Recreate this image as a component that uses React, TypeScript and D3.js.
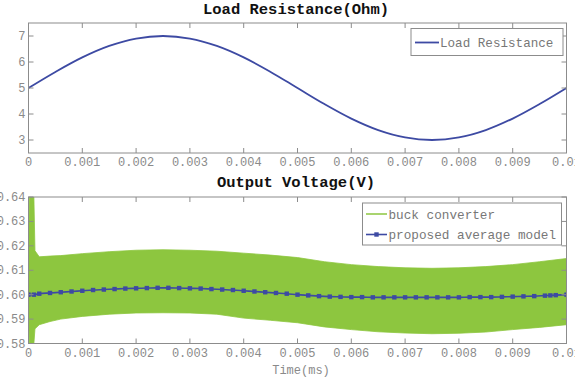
import React from "react";
import * as d3 from "d3";

const W = 575;
const H = 382;

// Load resistance (Ohm)
const loadTime = [0, 0.0005, 0.001, 0.0015, 0.002, 0.0025, 0.003, 0.0035, 0.004, 0.0045, 0.005, 0.0055, 0.006, 0.0065, 0.007, 0.0075, 0.008, 0.0085, 0.009, 0.0095, 0.01];
const loadValues = [5.0, 5.618, 6.176, 6.618, 6.902, 7.0, 6.902, 6.618, 6.176, 5.618, 5.0, 4.382, 3.824, 3.382, 3.098, 3.0, 3.098, 3.382, 3.824, 4.382, 5.0];

// Buck converter ripple envelope
const buckTime = [0, 0.00002, 0.00008, 0.0001, 0.00012, 0.0002, 0.0004, 0.0006, 0.001, 0.0015, 0.002, 0.0025, 0.003, 0.0035, 0.004, 0.0045, 0.005, 0.0055, 0.006, 0.0065, 0.007, 0.0075, 0.008, 0.0085, 0.009, 0.0095, 0.01];
const buckUpper = [0.6, 0.66, 0.66, 0.64, 0.618, 0.6155, 0.6158, 0.616, 0.6168, 0.6176, 0.6182, 0.6184, 0.6182, 0.6178, 0.617, 0.6162, 0.6152, 0.6135, 0.6123, 0.6115, 0.611, 0.6108, 0.611, 0.6115, 0.6123, 0.6135, 0.6148];
const buckLower = [0.6, 0.57, 0.57, 0.58, 0.586, 0.5877, 0.589, 0.59, 0.5911, 0.592, 0.5925, 0.5926, 0.5925, 0.592, 0.5904, 0.5895, 0.5885, 0.5868, 0.5857, 0.5848, 0.5843, 0.584, 0.5842, 0.5847, 0.5857, 0.5866, 0.5877];

// Proposed average model
const avgTime = [0, 0.0001, 0.0002, 0.0004, 0.0006, 0.0008, 0.001, 0.0012, 0.0014, 0.0016, 0.0018, 0.002, 0.0022, 0.0024, 0.0026, 0.0028, 0.003, 0.0032, 0.0034, 0.0036, 0.0038, 0.004, 0.0042, 0.0044, 0.0046, 0.0048, 0.005, 0.0052, 0.0054, 0.0056, 0.0058, 0.006, 0.0062, 0.0064, 0.0066, 0.0068, 0.007, 0.0072, 0.0074, 0.0076, 0.0078, 0.008, 0.0082, 0.0084, 0.0086, 0.0088, 0.009, 0.0092, 0.0094, 0.0096, 0.0097, 0.0098, 0.01];
const avgValues = [0.6, 0.6, 0.6004, 0.6007, 0.601, 0.6013, 0.6016, 0.6019, 0.6021, 0.6023, 0.6025, 0.6026, 0.6027, 0.6028, 0.6028, 0.6027, 0.6026, 0.6025, 0.6023, 0.6021, 0.6019, 0.6016, 0.6013, 0.601, 0.6007, 0.6004, 0.6, 0.5997, 0.5994, 0.5992, 0.5991, 0.599, 0.599, 0.5989, 0.5989, 0.5989, 0.5989, 0.5989, 0.5989, 0.5989, 0.5989, 0.5989, 0.599, 0.599, 0.599, 0.5991, 0.5992, 0.5993, 0.5994, 0.5996, 0.5997, 0.5998, 0.6];

const xTicks = [0, 0.001, 0.002, 0.003, 0.004, 0.005, 0.006, 0.007, 0.008, 0.009, 0.01];
const xTickLabels = ["0", "0.001", "0.002", "0.003", "0.004", "0.005", "0.006", "0.007", "0.008", "0.009", "0.01"];
const topYTicks = [3, 4, 5, 6, 7];
const botYTicks = [0.58, 0.59, 0.6, 0.61, 0.62, 0.63, 0.64];

const FONT = "'Liberation Mono', 'DejaVu Sans Mono', monospace";
const FRAME = "#8c8c8c";
const TICKTXT = "#8a8a8a";
const BLUE = "#3d4aa3";
const GREEN = "#8dc63f";

const L = 28.5;
const R = 566.5;
const top1 = 23;
const bot1 = 153;
const top2 = 197;
const bot2 = 343.5;

function Frame({ y0, y1, x, y, yTicks, yFmt }: any) {
  const tl = 5;
  return (
    <g>
      <rect x={L} y={y0} width={R - L} height={y1 - y0} fill="none" stroke={FRAME} strokeWidth={1} />
      {xTicks.map((t, i) => (
        <g key={"x" + i}>
          <line x1={x(t)} x2={x(t)} y1={y1} y2={y1 - tl} stroke={FRAME} />
          <line x1={x(t)} x2={x(t)} y1={y0} y2={y0 + tl} stroke={FRAME} />
          <text x={x(t)} y={y1 + 13} textAnchor="middle" fontFamily={FONT} fontSize={12} fill={TICKTXT}>
            {xTickLabels[i]}
          </text>
        </g>
      ))}
      {yTicks.map((t: number, i: number) => (
        <g key={"y" + i}>
          <line x1={L} x2={L + tl} y1={y(t)} y2={y(t)} stroke={FRAME} />
          <line x1={R} x2={R - tl} y1={y(t)} y2={y(t)} stroke={FRAME} />
          <text x={L - 3} y={y(t) + 4} textAnchor="end" fontFamily={FONT} fontSize={12} fill={TICKTXT}>
            {yFmt(t)}
          </text>
        </g>
      ))}
    </g>
  );
}

export default function App() {
  const x = d3.scaleLinear().domain([0, 0.01]).range([L, R]);
  const y1 = d3.scaleLinear().domain([2.5, 7.5]).range([bot1, top1]);
  const y2 = d3.scaleLinear().domain([0.58, 0.64]).range([bot2, top2]);

  const loadLine = d3
    .line<number>()
    .x((_, i) => x(loadTime[i]))
    .y((d) => y1(d))
    .curve(d3.curveCatmullRom);

  const buckArea = d3
    .area<number>()
    .x((_, i) => x(buckTime[i]))
    .y0((_, i) => y2(buckLower[i]))
    .y1((d) => y2(d));

  const avgLine = d3
    .line<number>()
    .x((_, i) => x(avgTime[i]))
    .y((d) => y2(d))
    .curve(d3.curveMonotoneX);

  return (
    <svg width={W} height={H} style={{ position: "absolute", left: 0, top: 0, background: "#fff" }}>
      <defs>
        <clipPath id="clip2">
          <rect x={L} y={top2} width={R - L} height={bot2 - top2} />
        </clipPath>
      </defs>
      <rect x={0} y={0} width={W} height={H} fill="#fff" />

      {/* Top chart */}
      <text x={296} y={14} textAnchor="middle" fontFamily={FONT} fontWeight="bold" fontSize={15.5} fill="#111">
        Load Resistance(Ohm)
      </text>
      <path d={loadLine(loadValues) || ""} fill="none" stroke={BLUE} strokeWidth={1.8} />
      <Frame y0={top1} y1={bot1} x={x} y={y1} yTicks={topYTicks} yFmt={(t: number) => String(t)} />
      <g>
        <rect x={411} y={28.5} width={152} height={27} fill="#fff" stroke={FRAME} />
        <line x1={415} x2={439} y1={42.5} y2={42.5} stroke={BLUE} strokeWidth={1.8} />
        <text x={440} y={46.5} fontFamily={FONT} fontSize={12.6} fill="#777">
          Load Resistance
        </text>
      </g>

      {/* Bottom chart */}
      <text x={296} y={187} textAnchor="middle" fontFamily={FONT} fontWeight="bold" fontSize={15.5} fill="#111">
        Output Voltage(V)
      </text>
      <g clipPath="url(#clip2)">
        <path d={buckArea(buckUpper) || ""} fill={GREEN} stroke={GREEN} strokeWidth={0.8} />
        <path d={avgLine(avgValues) || ""} fill="none" stroke={BLUE} strokeWidth={1.6} />
        {avgValues.map((v, i) => (
          <rect key={i} x={x(avgTime[i]) - 2.2} y={y2(v) - 2.2} width={4.4} height={4.4} fill={BLUE} />
        ))}
      </g>
      <Frame y0={top2} y1={bot2} x={x} y={y2} yTicks={botYTicks} yFmt={(t: number) => t.toFixed(2)} />
      <g>
        <rect x={362.5} y={203} width={199} height={42} fill="#fff" stroke={FRAME} />
        <line x1={366} x2={387} y1={214} y2={214} stroke={GREEN} strokeWidth={1.5} />
        <text x={388.5} y={218.5} fontFamily={FONT} fontSize={12.7} fill="#777">
          buck converter
        </text>
        <line x1={366} x2={387} y1={234.5} y2={234.5} stroke={BLUE} strokeWidth={1.6} />
        <rect x={374.3} y={232.3} width={4.4} height={4.4} fill={BLUE} />
        <text x={388.5} y={239} fontFamily={FONT} fontSize={12.7} fill="#777">
          proposed average model
        </text>
      </g>
      <text x={301} y={374} textAnchor="middle" fontFamily={FONT} fontSize={12} fill={TICKTXT}>
        Time(ms)
      </text>
    </svg>
  );
}
